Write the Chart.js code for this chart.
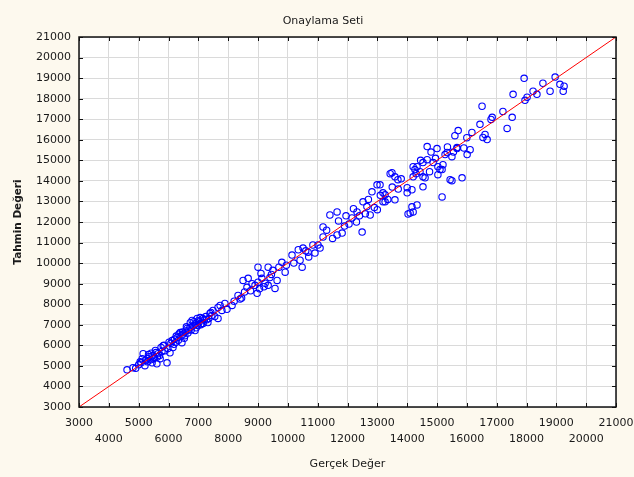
<!DOCTYPE html>
<html lang="tr">
<head>
<meta charset="utf-8">
<title>Onaylama Seti</title>
<script src="https://cdn.jsdelivr.net/npm/chart.js@4.4.1/dist/chart.umd.min.js"></script>
<style>
  html, body { margin: 0; padding: 0; background: #fdf9ee; }
  canvas { display: block; }
</style>
</head>
<body>
<canvas id="grafico" width="634" height="477"></canvas>
<script>
// Gerçek değerler (x) ve tahmin değerleri (y), aynı sırada
const gercekDeger = [
  4610, 4810, 4900, 5000, 5080, 5150, 5210, 5280, 5300, 5350, 5400, 5450, 5480, 5520, 5580, 5610, 5650, 5700, 5720, 5780, 5820, 5880, 5950, 5980,
  5050, 5120, 5230, 5330, 5420, 5500, 5560, 5630, 5750, 5850,
  6050, 6080, 6120, 6150, 6200, 6250, 6290, 6330, 6390, 6420, 6450, 6500, 6550, 6580, 6620, 6650, 6720, 6760, 6790, 6820, 6890, 6900, 6960, 6990, 7030, 7060, 7100, 7160, 7200, 7250, 7320, 7350, 7390, 7450, 7490, 7550,
  6020, 6180, 6260, 6350, 6470, 6530, 6600, 6680, 6730, 6850, 6930, 7000, 7080, 7150, 7280, 7420,
  7660, 7660, 7730, 7790, 7890, 7960, 8130, 8200, 8330, 8450, 8400,
  8500, 8630, 8670, 8750, 8900, 8970, 9000, 9000, 9050, 9130, 9240, 9340, 9340, 9400, 9500, 9570, 9640, 9800, 9910, 9950,
  8550, 8800, 9100, 9200, 9450, 9700,
  10140, 10410, 10480, 10510, 10600, 10680, 10840, 10910, 11010, 11080, 11180, 11180, 11410, 11650, 11650, 11820,
  10200, 10350, 10700, 11300, 11500,
  11900, 12150, 12300, 12320, 12490, 12520, 12600, 12760, 12820, 12900, 12990, 13090, 13190, 13190, 13260, 13260, 13430, 13490, 13590, 13590, 13690, 13700,
  11700, 11950, 12050, 12200, 12400, 12650, 12700, 13000, 13100, 13350, 13500, 13800,
  14000, 14000, 14030, 14100, 14160, 14160, 14200, 14200, 14200, 14260, 14330, 14330, 14430, 14530, 14530, 14530, 14600, 14670, 14670, 14870, 15000, 15030, 15030, 15100, 15170, 15170, 15200, 15270, 15340, 15440, 15500, 15500,
  14300, 14450, 14750, 14800, 14950, 15350, 15550, 15600, 15900, 16000,
  15670, 15670, 15710, 15840, 16010, 16110, 16170, 16440, 16510, 16540, 16610, 16680, 16810, 16850, 17210, 17350, 17520,
  17550, 17920, 17950, 18020, 18220, 18350, 18550, 18790, 18960, 19120, 19230, 19260
];
const tahminDegeri = [
  4810, 4910, 4880, 5050, 5150, 5590, 5010, 5350, 5200, 5450, 5300, 5150, 5500, 5400, 5650, 5100, 5590, 5500, 5350, 5700, 5980, 5740, 5150, 5850,
  5200, 5350, 5280, 5550, 5620, 5350, 5750, 5450, 5900, 6000,
  5640, 6100, 6230, 5890, 6300, 6150, 6380, 6250, 6620, 6450, 6130, 6550, 6470, 6700, 6820, 6600, 6870, 6750, 7210, 6950, 6720, 7050, 7310, 6960, 7150, 7350, 7050, 7060, 7250, 7400, 7110, 7300, 7550, 7450, 7700, 7400,
  6150, 6050, 6450, 6550, 6650, 6350, 6900, 6750, 7100, 7150, 6850, 7200, 7000, 7300, 7250, 7600,
  7310, 7840, 7940, 7700, 8040, 7750, 7940, 8150, 8430, 8300, 8250,
  9160, 8820, 9260, 8650, 8920, 8530, 9070, 9800, 8750, 9260, 9020, 8920, 9800, 9300, 9650, 8770, 9160, 10040, 9560, 9900,
  8600, 9000, 9500, 8850, 9450, 9800,
  10390, 10140, 9800, 10730, 10600, 10530, 10880, 10490, 10880, 10730, 11760, 11270, 12340, 12490, 11370, 11460,
  10000, 10650, 10300, 11600, 11200,
  11800, 12200, 12000, 12490, 11510, 12980, 12400, 12340, 13470, 12700, 13810, 13810, 12980, 13420, 13320, 12980, 14350, 14400, 14200, 13080, 14060, 13600,
  12050, 12300, 11900, 12650, 12300, 12750, 13100, 12600, 13300, 13100, 13700, 14100,
  13420, 13670, 12390, 12440, 13570, 12740, 14690, 14200, 12490, 14550, 14690, 12830, 14450, 14890, 14200, 13710, 14150, 15670, 15030, 14890, 15570, 14300, 14690, 14550, 14550, 13220, 14790, 15280, 15380, 14060, 15180, 14010,
  14350, 15000, 14450, 15400, 15100, 15650, 15400, 16200, 15600, 16100,
  15570, 15620, 16450, 14150, 15280, 15520, 16360, 16750, 17630, 16110, 16260, 16010, 16990, 17090, 17380, 16550, 17090,
  18210, 18990, 17920, 18070, 18360, 18210, 18750, 18360, 19050, 18700, 18360, 18610
];
// Kırmızı referans doğrusu (y = x)
const cizgiUclari = [3000, 21000];
// Eksen sınırları ve adım
const eksenMin = 3000;
const eksenMax = 21000;
const eksenAdim = 1000;

const noktalar = gercekDeger.map((x, i) => ({ x: x, y: tahminDegeri[i] }));
const cizgi = cizgiUclari.map(v => ({ x: v, y: v }));

const yaziTipi = "'DejaVu Sans', Verdana, sans-serif";
Chart.defaults.font.family = yaziTipi;
Chart.defaults.font.size = 11;
Chart.defaults.color = '#1a1a1a';

// Arka plan, başlık, çerçeve ve içe dönük çentikler
const cerceve = {
  id: 'cerceve',
  beforeDraw(chart) {
    const { ctx, chartArea: a } = chart;
    ctx.save();
    ctx.fillStyle = '#fdf9ee';
    ctx.fillRect(0, 0, chart.width, chart.height);
    ctx.fillStyle = '#ffffff';
    ctx.fillRect(a.left, a.top, a.right - a.left, a.bottom - a.top);
    ctx.restore();
  },
  afterDraw(chart) {
    const { ctx, chartArea: a, scales } = chart;
    ctx.save();
    ctx.strokeStyle = '#111';
    ctx.lineWidth = 1;
    ctx.beginPath();
    scales.x.ticks.forEach(t => {
      const px = Math.round(scales.x.getPixelForValue(t.value)) + 0.5;
      ctx.moveTo(px, a.top); ctx.lineTo(px, a.top + 4);
      ctx.moveTo(px, a.bottom); ctx.lineTo(px, a.bottom - 4);
    });
    scales.y.ticks.forEach(t => {
      const py = Math.round(scales.y.getPixelForValue(t.value)) + 0.5;
      ctx.moveTo(a.left, py); ctx.lineTo(a.left + 4, py);
      ctx.moveTo(a.right, py); ctx.lineTo(a.right - 4, py);
    });
    ctx.stroke();
    ctx.lineWidth = 1.5;
    ctx.strokeRect(a.left, a.top, a.right - a.left, a.bottom - a.top);
    // başlık
    ctx.fillStyle = '#1a1a1a';
    ctx.font = '11px ' + yaziTipi;
    ctx.textAlign = 'center';
    ctx.textBaseline = 'middle';
    ctx.fillText('Onaylama Seti', 323, 21);
    ctx.restore();
  }
};

const ctx = document.getElementById('grafico').getContext('2d');
new Chart(ctx, {
  type: 'scatter',
  data: {
    datasets: [
      {
        type: 'line',
        data: cizgi,
        borderColor: '#ff0000',
        borderWidth: 1,
        pointRadius: 0,
        fill: false
      },
      {
        data: noktalar,
        pointStyle: 'circle',
        pointRadius: 3.2,
        pointBorderWidth: 1.1,
        borderColor: '#0000ff',
        backgroundColor: 'rgba(0,0,0,0)'
      }
    ]
  },
  options: {
    responsive: false,
    animation: false,
    layout: { padding: { left: 0, right: 18, top: 37, bottom: 0 } },
    plugins: {
      legend: { display: false },
      tooltip: { enabled: false },
      title: { display: false }
    },
    scales: {
      x: {
        type: 'linear',
        min: eksenMin,
        max: eksenMax,
        afterFit(scale) {
          scale.height = 70;
          scale.paddingLeft = 0;
          scale.paddingRight = 0;
        },
        ticks: {
          stepSize: eksenAdim,
          padding: 8,
          maxRotation: 0,
          autoSkip: false,
          font: { size: 11, lineHeight: 1.45 },
          callback: function(value) {
            return (value / 1000) % 2 === 1 ? String(value) : ['', String(value)];
          }
        },
        grid: { color: '#dadada', lineWidth: 1, drawTicks: false },
        border: { display: false },
        title: {
          display: true,
          text: 'Gerçek Değer',
          font: { size: 11 },
          padding: { top: 0, bottom: 6 }
        }
      },
      y: {
        type: 'linear',
        min: eksenMin,
        max: eksenMax,
        afterFit(scale) {
          scale.width = 79;
          scale.paddingTop = 0;
          scale.paddingBottom = 0;
        },
        ticks: {
          stepSize: eksenAdim,
          padding: 8,
          autoSkip: false,
          callback: function(value) { return String(value); }
        },
        grid: { color: '#dadada', lineWidth: 1, drawTicks: false },
        border: { display: false },
        title: {
          display: true,
          text: 'Tahmin Değeri',
          font: { size: 10.5, weight: 'bold' },
          padding: { top: 12, bottom: 0 }
        }
      }
    }
  },
  plugins: [cerceve]
});
</script>
</body>
</html>
